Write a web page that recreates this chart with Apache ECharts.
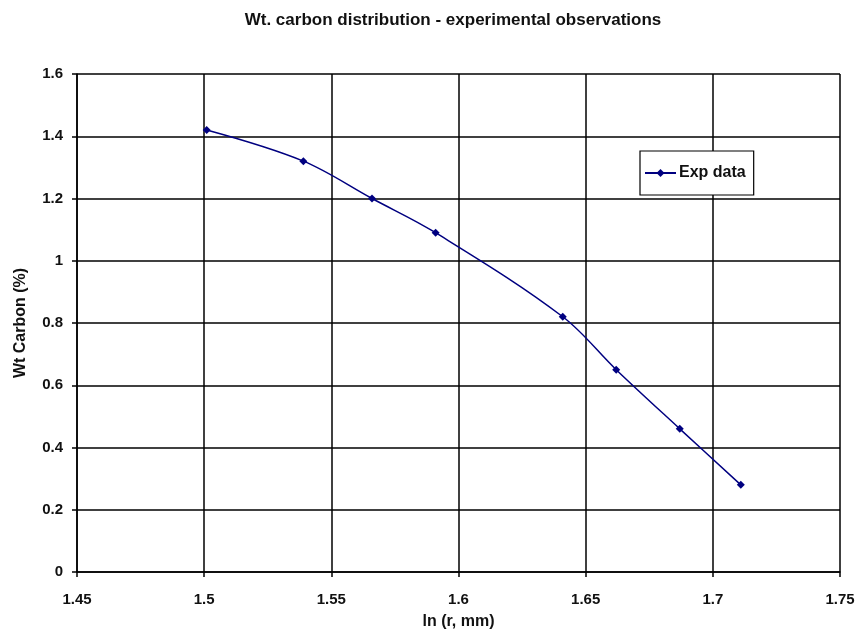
<!DOCTYPE html>
<html><head><meta charset="utf-8">
<script src="https://cdn.jsdelivr.net/npm/echarts@6/dist/echarts.min.js"></script>
<style>html,body{margin:0;padding:0;background:#fff}#c{width:858px;height:641px}</style>
</head><body><div id="c"></div>
<script>
const lnR = [1.501, 1.539, 1.566, 1.591, 1.641, 1.662, 1.687, 1.711];
const wtCarbon = [1.42, 1.32, 1.20, 1.09, 0.82, 0.65, 0.46, 0.28];
const seriesName = 'Exp data';
const titleText = 'Wt. carbon distribution - experimental observations';
const xName = 'ln (r, mm)';
const yName = 'Wt Carbon (%)';

const fmt = v => String(parseFloat(v.toFixed(2)));
const chart = echarts.init(document.getElementById('c'));
chart.setOption({
  animation: false,
  backgroundColor: '#fff',
  textStyle: {fontFamily: 'Liberation Sans, Arial, sans-serif'},
  title: {text: titleText, left: 448, top: 7, textAlign: 'center',
    textStyle: {fontSize: 17, fontWeight: 'bold', color: '#111'}},
  grid: {left: 77, right: 18, top: 74, bottom: 69},
  legend: {data: [seriesName], left: 640, top: 151, orient: 'vertical',
    backgroundColor: '#fff', borderColor: '#000', borderWidth: 1.2,
    padding: [14, 8, 14, 4], itemWidth: 31, itemHeight: 10, itemGap: 4,
    textStyle: {fontSize: 16, fontWeight: 'bold', color: '#111', padding: [0, 0, 0, -2]}},
  xAxis: {type: 'value', min: 1.45, max: 1.75, interval: 0.05,
    name: xName, nameLocation: 'middle', nameGap: 42,
    nameTextStyle: {fontSize: 16, fontWeight: 'bold', color: '#111'},
    axisLine: {show: true, lineStyle: {color: '#000', width: 1.5}},
    axisTick: {show: true, length: 5, lineStyle: {color: '#000', width: 1.5}},
    axisLabel: {formatter: fmt, margin: 20, fontSize: 15, fontWeight: 'bold', color: '#111'},
    splitLine: {show: true, lineStyle: {color: '#000', width: 1.5}}},
  yAxis: {type: 'value', min: 0, max: 1.6, interval: 0.2,
    name: yName, nameLocation: 'middle', nameGap: 48, nameRotate: 90,
    nameTextStyle: {fontSize: 16, fontWeight: 'bold', color: '#111'},
    axisLine: {show: true, lineStyle: {color: '#000', width: 1.5}},
    axisTick: {show: true, length: 5, lineStyle: {color: '#000', width: 1.5}},
    axisLabel: {formatter: fmt, margin: 14, fontSize: 15, fontWeight: 'bold', color: '#111'},
    splitLine: {show: true, lineStyle: {color: '#000', width: 1.5}}},
  series: [{name: seriesName, type: 'line', smooth: 0.35,
    data: lnR.map((x, i) => [x, wtCarbon[i]]),
    symbol: 'diamond', symbolSize: 8,
    lineStyle: {color: '#000080', width: 1.5},
    itemStyle: {color: '#000080'}}]
});
</script></body></html>
